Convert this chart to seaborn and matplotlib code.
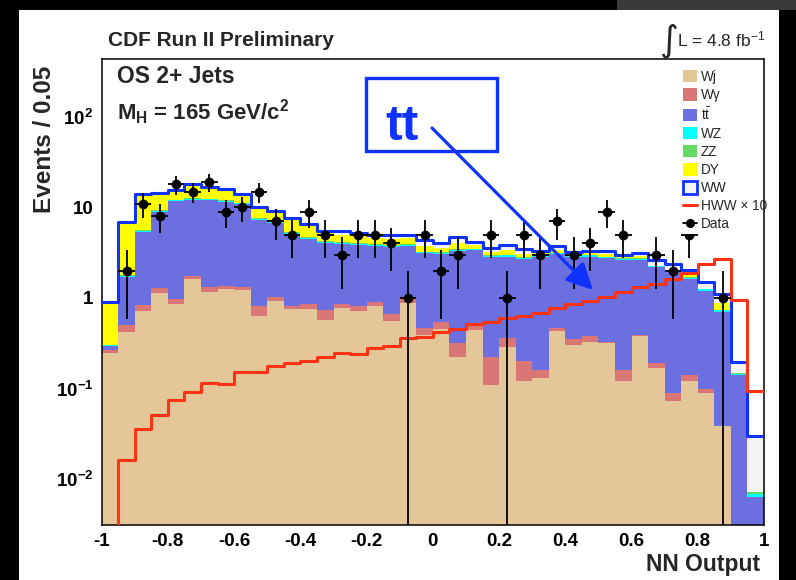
import numpy as np
import pandas as pd
import matplotlib
matplotlib.use("Agg")
import matplotlib.pyplot as plt
import seaborn as sns
from matplotlib.patches import Patch, Rectangle, FancyArrowPatch, ArrowStyle
from matplotlib.lines import Line2D
from matplotlib.ticker import FixedLocator, FixedFormatter, LogLocator, NullFormatter

# ---------------------------------------------------------------- data
n_bins = 40
nn_range = (-1.0, 1.0)
nn_edges = np.linspace(nn_range[0], nn_range[1], n_bins + 1)
nn_centers = 0.5 * (nn_edges[:-1] + nn_edges[1:])

wj = [0.245, 0.418, 0.724, 1.13, 0.85, 1.62, 1.17, 1.26, 1.23, 0.63,
      0.93, 0.76, 0.76, 0.57, 0.77, 0.71, 0.82, 0.55, 0.89, 0.39,
      0.45, 0.22, 0.44, 0.11, 0.29, 0.12, 0.13, 0.43, 0.30, 0.33,
      0.32, 0.12, 0.38, 0.17, 0.072, 0.12, 0.088, 0.038, 0.0, 0.0]
wgamma = [0.021, 0.085, 0.107, 0.15, 0.12, 0.14, 0.16, 0.11, 0.09, 0.18,
          0.10, 0.06, 0.10, 0.17, 0.09, 0.11, 0.08, 0.12, 0.10, 0.07,
          0.09, 0.10, 0.06, 0.11, 0.07, 0.08, 0.03, 0.04, 0.05, 0.05,
          0.01, 0.04, 0.01, 0.02, 0.017, 0.02, 0.011, 0.0, 0.0, 0.0]
ttbar = [0.031, 1.20, 4.53, 7.64, 10.77, 10.34, 10.68, 10.13, 9.49, 6.46,
         5.66, 4.31, 3.64, 3.31, 3.09, 3.03, 2.85, 2.99, 2.76, 2.66,
         2.52, 2.99, 2.89, 2.62, 2.51, 2.49, 2.68, 2.57, 2.51, 2.49,
         2.42, 2.47, 2.24, 2.00, 1.86, 1.48, 1.105, 0.668, 0.141, 0.0063]
wz = [0.005, 0.05, 0.16, 0.27, 0.35, 0.36, 0.36, 0.35, 0.32, 0.22,
      0.20, 0.15, 0.13, 0.12, 0.12, 0.12, 0.11, 0.11, 0.11, 0.09,
      0.09, 0.10, 0.10, 0.09, 0.09, 0.08, 0.09, 0.09, 0.09, 0.09,
      0.08, 0.08, 0.08, 0.06, 0.06, 0.05, 0.04, 0.025, 0.004, 0.0005]
zz = [0.002, 0.02, 0.06, 0.09, 0.12, 0.12, 0.12, 0.11, 0.11, 0.07,
      0.07, 0.05, 0.04, 0.04, 0.04, 0.04, 0.04, 0.04, 0.04, 0.03,
      0.03, 0.03, 0.03, 0.03, 0.03, 0.03, 0.03, 0.03, 0.03, 0.03,
      0.03, 0.03, 0.03, 0.02, 0.02, 0.02, 0.01, 0.008, 0.002, 0.0004]
dy = [0.570, 4.92, 7.82, 4.52, 2.62, 4.70, 3.84, 3.56, 2.33, 2.19,
      1.84, 2.03, 1.65, 1.12, 0.89, 0.78, 0.67, 0.72, 0.67, 0.51,
      0.38, 0.56, 0.29, 0.25, 0.39, 0.28, 0.14, 0.26, 0.09, 0.12,
      0.20, 0.08, 0.17, 0.0, 0.02, 0.11, 0.0, 0.135, 0.0, 0.0]
ww = [0.036, 0.27, 0.52, 0.55, 0.59, 0.68, 0.65, 0.61, 0.54, 0.38,
      0.35, 0.29, 0.25, 0.21, 0.54, 0.48, 0.40, 0.44, 0.40, 0.62,
      0.46, 0.69, 0.38, 0.33, 0.48, 0.36, 0.23, 0.33, 0.18, 0.22,
      0.27, 0.17, 0.26, 0.37, 0.31, 0.24, 0.26, 0.233, 0.051, 0.0227]
hww_x10 = [0.0, 0.0162, 0.0354, 0.051, 0.075, 0.092, 0.114, 0.111, 0.153, 0.153,
           0.177, 0.19, 0.20, 0.22, 0.245, 0.24, 0.278, 0.295, 0.36, 0.374,
           0.417, 0.45, 0.512, 0.54, 0.596, 0.632, 0.677, 0.78, 0.858, 0.934,
           1.03, 1.17, 1.31, 1.43, 1.62, 1.875, 2.37, 2.70, 0.94, 0.094]
data_counts = [0, 2, 11, 8, 18, 15, 19, 9, 10, 15,
               7, 5, 9, 5, 3, 5, 5, 4, 1, 5,
               2, 3, 0, 5, 1, 5, 3, 7, 3, 4,
               9, 5, 0, 3, 2, 5, 0, 1, 0, 0]

processes = ["Wj", "Wγ", "tt̄", "WZ", "ZZ", "DY", "WW"]
legend_labels = ["Wj", "Wγ", r"$\mathrm{t\bar{t}}$", "WZ", "ZZ", "DY", "WW",
                 "HWW × 10", "Data"]
x_tick_values = [-1.0, -0.8, -0.6, -0.4, -0.2, 0.0, 0.2, 0.4, 0.6, 0.8, 1.0]
x_tick_labels = ["-1", "-0.8", "-0.6", "-0.4", "-0.2", "0", "0.2", "0.4", "0.6", "0.8", "1"]
y_tick_values = [1e-2, 1e-1, 1.0, 10.0, 100.0]
y_tick_labels = [r"$10^{-2}$", r"$10^{-1}$", "1", "10", r"$10^{2}$"]

colors = {
    "Wj": "#e4c699",
    "Wγ": "#db7676",
    "tt̄": "#6b6fe0",
    "WZ": "#00ffff",
    "ZZ": "#66d966",
    "DY": "#ffff00",
    "WW": "#f4f4f4",
}
BLUE = "#0f32ff"
RED = "#ff3214"

# ---------------------------------------------------------------- style
sns.set_style("white")
plt.rcParams["font.family"] = ["Liberation Sans", "DejaVu Sans"]
plt.rcParams["mathtext.fontset"] = "custom"
plt.rcParams["mathtext.rm"] = "Liberation Sans"
plt.rcParams["mathtext.bf"] = "Liberation Sans:bold"
plt.rcParams["mathtext.it"] = "Liberation Sans:italic"
plt.rcParams["mathtext.default"] = "bf"
plt.rcParams["axes.unicode_minus"] = False

W, H = 796, 580
fig = plt.figure(figsize=(W / 100, H / 100), dpi=100)
fig.patch.set_facecolor("white")
ax = fig.add_axes([101.7 / W, 1 - 525 / H, 662.3 / W, 466 / H])

# ---------------------------------------------------------------- stacked backgrounds
bkg = pd.concat(
    [pd.DataFrame({"nn": nn_centers, "process": p, "events": v})
     for p, v in zip(processes, [wj, wgamma, ttbar, wz, zz, dy, ww])],
    ignore_index=True,
)
sns.histplot(
    data=bkg, x="nn", weights="events", hue="process",
    hue_order=processes[::-1], palette=colors, multiple="stack",
    bins=n_bins, binrange=nn_range, element="step", fill=True, alpha=1.0,
    linewidth=0, legend=False, ax=ax,
)

total = bkg.groupby("nn", sort=True)["events"].sum().reset_index()
sns.histplot(data=total, x="nn", weights="events", bins=n_bins, binrange=nn_range,
             element="step", fill=False, color=BLUE, linewidth=2.2, ax=ax, zorder=3)
signal = pd.DataFrame({"nn": nn_centers, "events": hww_x10})
sns.histplot(data=signal, x="nn", weights="events", bins=n_bins, binrange=nn_range,
             element="step", fill=False, color=RED, linewidth=2.2, ax=ax, zorder=3)

counts = np.array(data_counts, dtype=float)
has = counts > 0
ax.errorbar(nn_centers[has], counts[has], xerr=0.025, yerr=np.sqrt(counts[has]),
            fmt="o", color="black", ms=6, lw=1.3, capsize=0, zorder=4)

# ---------------------------------------------------------------- axes
ax.set_yscale("log")
ax.set_xlim(-1, 1)
ax.set_ylim(0.0031, 437)
ax.xaxis.set_major_locator(FixedLocator(x_tick_values))
ax.xaxis.set_major_formatter(FixedFormatter(x_tick_labels))
ax.xaxis.set_minor_locator(FixedLocator(np.arange(-1.0, 1.0001, 0.05)))
ax.yaxis.set_major_locator(FixedLocator(y_tick_values))
ax.yaxis.set_major_formatter(FixedFormatter(y_tick_labels))
ax.yaxis.set_minor_locator(LogLocator(base=10, subs=np.arange(2, 10)))
ax.yaxis.set_minor_formatter(NullFormatter())
ax.tick_params(axis="both", which="both", direction="in", colors="black",
               width=1.1, top=False, right=False)
ax.tick_params(axis="x", which="major", length=10, pad=6, labelsize=13.5)
ax.tick_params(axis="x", which="minor", length=4.8)
ax.tick_params(axis="y", which="major", length=14.4, pad=6, labelsize=13.5)
ax.tick_params(axis="y", which="minor", length=7.2)
for lab in ax.get_xticklabels() + ax.get_yticklabels():
    lab.set_fontweight("bold")
for sp in ax.spines.values():
    sp.set_visible(True)
    sp.set_color("black")
    sp.set_linewidth(1.1)

ax.set_xlabel("NN Output", fontsize=16.5, fontweight="bold", loc="right")
ax.xaxis.set_label_coords((760 - 101.7) / 662.3, (525 - 553) / 466)
ax.set_ylabel("Events / 0.05", fontsize=17.5, fontweight="bold")
ax.yaxis.set_label_coords((56 - 101.7) / 662.3, (525 - 139) / 466)

# ---------------------------------------------------------------- legend
ax.add_patch(Rectangle((0.858, 0.6255), 0.139, 0.37, transform=ax.transAxes,
                       facecolor="white", edgecolor="none", zorder=5))
handles = [Patch(facecolor=colors[p], edgecolor="none") for p in processes[:-1]]
handles.append(Patch(facecolor=colors["WW"], edgecolor=BLUE, linewidth=2))
handles.append(Line2D([], [], color=RED, lw=2.2))
handles.append(Line2D([], [], color="black", marker="o", ms=5.5, lw=1.3))
leg = ax.legend(handles, legend_labels, loc="upper left",
                bbox_to_anchor=(683 / W, 1 - 70 / H), bbox_transform=fig.transFigure,
                frameon=False, borderpad=0, borderaxespad=0, fontsize=9.8,
                handlelength=1.05, handleheight=1.0, handletextpad=0.25,
                labelspacing=0.3)
leg.set_zorder(6)

# ---------------------------------------------------------------- texts
fig.text(108 / W, 1 - 46 / H, "CDF Run II Preliminary", fontsize=15,
         fontweight="bold", ha="left", va="baseline")
fig.text(669 / W, 1 - 41 / H, "∫", family="DejaVu Sans", fontsize=26,
         ha="center", va="center")
fig.text(677 / W, 1 - 46 / H, r"L = 4.8 fb$^{\mathrm{-1}}$", fontsize=12.5,
         ha="left", va="baseline")
fig.text(117 / W, 1 - 83 / H, "OS 2+ Jets", fontsize=16.5, fontweight="bold",
         ha="left", va="baseline")
fig.text(117 / W, 1 - 120 / H, r"$M_{H}$ = 165 GeV/c$^{2}$", fontsize=16,
         fontweight="bold", ha="left", va="baseline")

# annotation box with arrow
fig.add_artist(Rectangle((366 / W, 1 - 151 / H), 131 / W, 73 / H,
                         transform=fig.transFigure, facecolor="none",
                         edgecolor=BLUE, linewidth=2.4, zorder=7))
fig.text(385 / W, 1 - 140 / H, "tt", fontsize=36, fontweight="bold",
         color=BLUE, ha="left", va="baseline", zorder=7)
fig.add_artist(FancyArrowPatch((432 / W, 1 - 128 / H), (593 / W, 1 - 290 / H),
                               transform=fig.transFigure,
                               arrowstyle=ArrowStyle("-|>", head_length=0.8, head_width=0.4),
                               mutation_scale=20, lw=2.3, color=BLUE,
                               shrinkA=0, shrinkB=0, zorder=7))

# ---------------------------------------------------------------- frame of the page
fig.add_artist(Rectangle((0, 0), 19 / W, 1, transform=fig.transFigure,
                         facecolor="black", edgecolor="none", zorder=10))
fig.add_artist(Rectangle((0, 1 - 10 / H), 617 / W, 10 / H, transform=fig.transFigure,
                         facecolor="black", edgecolor="none", zorder=10))
fig.add_artist(Rectangle((617 / W, 1 - 10 / H), 179 / W, 10 / H, transform=fig.transFigure,
                         facecolor="#3a3a3a", edgecolor="none", zorder=10))
fig.add_artist(Rectangle((779 / W, 0), 17 / W, 1 - 10 / H, transform=fig.transFigure,
                         facecolor="black", edgecolor="none", zorder=10))

fig.savefig("out.png", dpi=100, facecolor="white")
